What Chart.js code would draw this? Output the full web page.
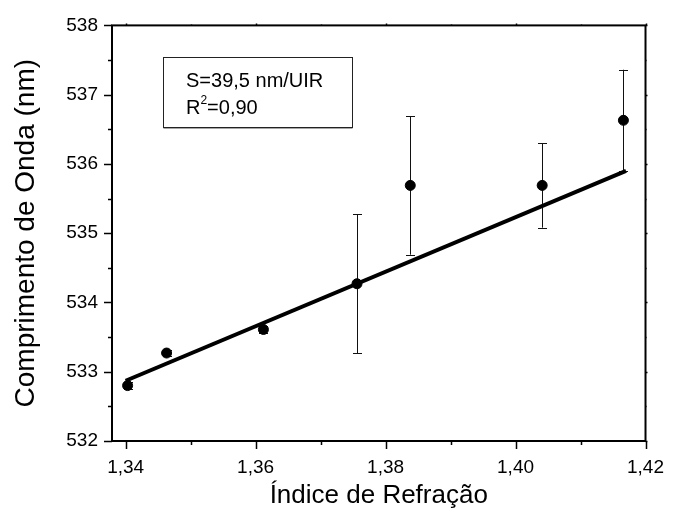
<!DOCTYPE html>
<html>
<head>
<meta charset="utf-8">
<script src="https://cdn.jsdelivr.net/npm/chart.js@4.4.0/dist/chart.umd.min.js"></script>
<style>
html,body{margin:0;padding:0;background:#fff;}
#wrap{position:relative;width:679px;height:509px;}
</style>
</head>
<body>
<div id="wrap"><canvas id="myChart" width="679" height="509"></canvas></div>
<script>
// measured points (refractive index vs wavelength)
var indices=[1.3403,1.3463,1.3612,1.3756,1.3838,1.4041,1.4166];
var lambdas=[532.80,533.27,533.61,534.27,535.69,535.69,536.63];
var errors=[0.05,0.05,0.05,1.00,1.00,0.61,0.73];

// linear fit
var fitX=[1.3400,1.4170];
var fitY=[532.87,535.90];

var xTicks=[1.34,1.35,1.36,1.37,1.38,1.39,1.40,1.41,1.42];
var yTicks=[532,532.5,533,533.5,534,534.5,535,535.5,536,536.5,537,537.5,538];

var boxLine1='S=39,5 nm/UIR';
var boxLine2=['R','2','=0,90'];

var FONT='"Liberation Sans", Arial, sans-serif';

function isMajorX(v){ return Math.round(v*100)%2===0; }
function isMajorY(v){ return Math.abs(v-Math.round(v))<1e-6; }

// frame + ticks
var framePlugin={
	id:'frame',
	afterDraw:function(chart){
		var ctx=chart.ctx, a=chart.chartArea;
		var sx=chart.scales.x, sy=chart.scales.y;
		ctx.save();
		ctx.strokeStyle='#000';
		ctx.lineWidth=2;
		ctx.strokeRect(a.left,a.top,a.right-a.left,a.bottom-a.top);
		ctx.lineWidth=1.5;
		ctx.beginPath();
		xTicks.forEach(function(v){
			var px=Math.round(sx.getPixelForValue(v))+0.5;
			var len=isMajorX(v)?8:4;
			ctx.moveTo(px,a.bottom); ctx.lineTo(px,a.bottom+len);
			ctx.moveTo(px,a.top); ctx.lineTo(px,a.top-(isMajorX(v)?2:1));
		});
		yTicks.forEach(function(v){
			var py=Math.round(sy.getPixelForValue(v))+0.5;
			var len=isMajorY(v)?8:4;
			ctx.moveTo(a.left,py); ctx.lineTo(a.left-len,py);
			ctx.moveTo(a.right,py); ctx.lineTo(a.right+(isMajorY(v)?2:1),py);
		});
		ctx.stroke();
		ctx.restore();
	}
};

// error bars under the points
var errorPlugin={
	id:'errbars',
	beforeDatasetsDraw:function(chart){
		var ctx=chart.ctx, sx=chart.scales.x, sy=chart.scales.y;
		ctx.save();
		ctx.strokeStyle='#111';
		ctx.lineWidth=1;
		ctx.beginPath();
		for(var i=0;i<indices.length;i++){
			var px=Math.round(sx.getPixelForValue(indices[i]))+0.5;
			var top=sy.getPixelForValue(lambdas[i]+errors[i]);
			var bot=sy.getPixelForValue(lambdas[i]-errors[i]);
			ctx.moveTo(px,top); ctx.lineTo(px,bot);
			ctx.moveTo(px-4.5,Math.round(top)+0.5); ctx.lineTo(px+4.5,Math.round(top)+0.5);
			ctx.moveTo(px-4.5,Math.round(bot)+0.5); ctx.lineTo(px+4.5,Math.round(bot)+0.5);
		}
		ctx.stroke();
		ctx.restore();
	}
};

// text box with slope and R2
var boxPlugin={
	id:'infobox',
	afterDraw:function(chart){
		var ctx=chart.ctx;
		var x=163.5,y=57.5,w=189,h=70;
		ctx.save();
		ctx.fillStyle='#fff';
		ctx.fillRect(x,y,w,h);
		ctx.strokeStyle='#888';
		ctx.lineWidth=1.5;
		ctx.beginPath(); ctx.moveTo(x,y+h+0.5); ctx.lineTo(x+w,y+h+0.5); ctx.stroke();
		ctx.strokeStyle='#222';
		ctx.lineWidth=1;
		ctx.strokeRect(x,y,w,h);
		ctx.fillStyle='#000';
		ctx.textBaseline='alphabetic';
		ctx.font='20px '+FONT;
		ctx.fillText(boxLine1,186,87);
		ctx.fillText(boxLine2[0],186,114);
		var rw=ctx.measureText(boxLine2[0]).width;
		ctx.font='12px '+FONT;
		ctx.fillText(boxLine2[1],186+rw,104);
		var sw=ctx.measureText(boxLine2[1]).width;
		ctx.font='20px '+FONT;
		ctx.fillText(boxLine2[2],186+rw+sw,114);
		ctx.restore();
	}
};

var pts=indices.map(function(v,i){ return {x:v,y:lambdas[i]}; });
var fitPts=fitX.map(function(v,i){ return {x:v,y:fitY[i]}; });

var ctx1=document.getElementById('myChart');
var c1=new Chart(ctx1,{
	type:'scatter',
	data:{
		datasets:[{
			label:'dados',
			data:pts,
			backgroundColor:'#000',
			borderColor:'#000',
			pointRadius:5,
			pointHoverRadius:5,
			showLine:false
		},{
			label:'ajuste',
			data:fitPts,
			showLine:true,
			borderColor:'#000',
			borderWidth:4,
			pointRadius:0,
			borderCapStyle:'butt',
			fill:false
		}]
	},
	options:{
		responsive:false,
		animation:false,
		layout:{padding:{top:24,right:22,left:0,bottom:0}},
		plugins:{legend:{display:false},tooltip:{enabled:false}},
		scales:{
			x:{
				type:'linear',min:1.3379,max:1.42,
				afterBuildTicks:function(s){ s.ticks=xTicks.map(function(v){return {value:v};}); },
				afterFit:function(s){ s.height=68; },
				grid:{display:false,drawTicks:false},
				border:{display:false},
				ticks:{
					padding:15,autoSkip:false,maxRotation:0,color:'#000',
					font:{family:FONT,size:19},
					callback:function(v){ return isMajorX(v)?v.toFixed(2).replace('.',','):''; }
				},
				title:{display:true,text:'Índice de Refração',color:'#000',font:{family:FONT,size:26},padding:{top:0,bottom:-2}}
			},
			y:{
				type:'linear',min:532,max:538,
				afterBuildTicks:function(s){ s.ticks=yTicks.map(function(v){return {value:v};}); },
				afterFit:function(s){ s.width=112; },
				grid:{display:false,drawTicks:false},
				border:{display:false},
				ticks:{
					padding:14,autoSkip:false,color:'#000',
					font:{family:FONT,size:19},
					callback:function(v){ return isMajorY(v)?String(v):''; }
				},
				title:{display:true,text:'Comprimento de Onda (nm)',color:'#000',font:{family:FONT,size:28},padding:{top:9,bottom:0}}
			}
		}
	},
	plugins:[errorPlugin,framePlugin,boxPlugin]
});
</script>
</body>
</html>
